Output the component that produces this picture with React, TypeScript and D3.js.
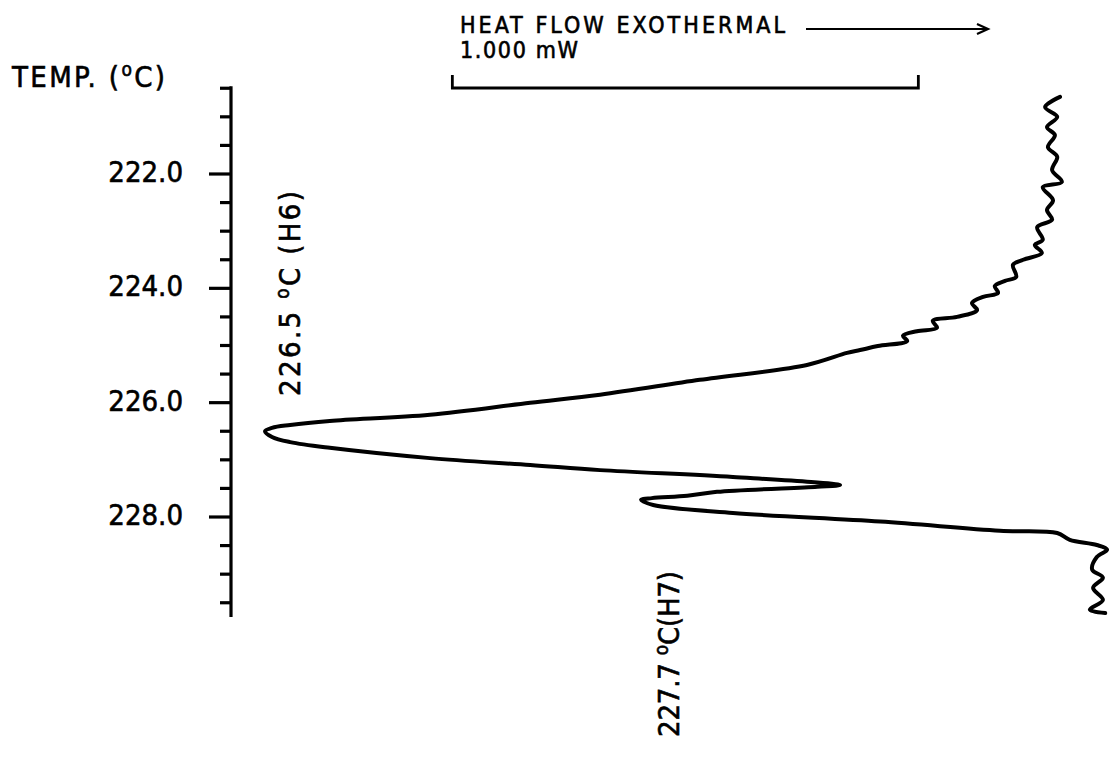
import React from 'react';
import * as d3 from 'd3';

// DSC trace: temperature (°C) down the page, heat flow (mW, exothermal to the right)
const TEMPERATURE = [
  220.65, 220.83, 221.0, 221.18, 221.32, 221.53, 221.7, 221.93, 222.14, 222.23,
  222.46, 222.63, 222.8, 222.93, 223.15, 223.24, 223.38, 223.5, 223.59, 223.8,
  223.87, 223.96, 224.08, 224.15, 224.26, 224.38, 224.5, 224.57, 224.69, 224.75,
  224.83, 224.92, 225.01, 225.08, 225.13, 225.34, 225.6, 225.86, 226.0, 226.21,
  226.32, 226.39, 226.44, 226.5, 226.6, 226.69, 226.79, 226.97, 227.09, 227.18,
  227.3, 227.44, 227.47, 227.56, 227.63, 227.67, 227.7, 227.79, 227.93, 228.08,
  228.24, 228.28, 228.4, 228.49, 228.57, 228.7, 228.92, 229.06, 229.24, 229.45,
  229.62, 229.68,
];
const HEAT_FLOW = [
  1.779, 1.747, 1.773, 1.751, 1.768, 1.753, 1.773, 1.762, 1.783, 1.742,
  1.764, 1.751, 1.762, 1.73, 1.742, 1.725, 1.74, 1.7, 1.678, 1.685,
  1.661, 1.639, 1.646, 1.614, 1.59, 1.601, 1.558, 1.506, 1.515, 1.472,
  1.442, 1.451, 1.388, 1.35, 1.322, 1.236, 1.006, 0.792, 0.642, 0.427,
  0.212, 0.127, 0.088, 0.073, 0.088, 0.127, 0.212, 0.427, 0.642, 0.792,
  1.077, 1.307, 1.258, 1.043, 0.979, 0.903, 0.88, 0.906, 1.077, 1.393,
  1.65, 1.773, 1.8, 1.858, 1.88, 1.858, 1.848, 1.871, 1.85, 1.871,
  1.843, 1.876,
];

const MAJOR_TICKS = [222, 224, 226, 228];
const TICK_LABELS = ['222.0', '224.0', '226.0', '228.0'];
const MINOR_TICKS = d3.range(220.5, 229.51, 0.5);
const AXIS_EXTENT = [220.5, 229.75];

// 1.000 mW scale bar
const SCALE_BAR_MW = [0.475, 1.475];
const SCALE_BAR_LABEL = '1.000 mW';
const HEADER = 'HEAT FLOW EXOTHERMAL';

// transition peaks
const PEAK_TEMPS = [226.5, 227.7];
const PEAK_NAMES = ['(H6)', '(H7)'];

const FONT = "'Liberation Sans Narrow', 'DejaVu Sans Condensed', 'Liberation Sans', Arial, sans-serif";
const INK = '#000';
const TEXT_STYLE = { fontFamily: FONT, fill: INK, stroke: INK, strokeWidth: 0.6 };

export default function App() {
  const W = 1109;
  const H = 758;
  const y = d3.scaleLinear().domain([222, 228]).range([174, 517]);
  const x = d3.scaleLinear().domain([0, 1]).range([231, 697]);
  const axisX = x(0);

  const pts: [number, number][] = TEMPERATURE.map((t, i) => [HEAT_FLOW[i], t]);
  const line = d3
    .line<[number, number]>()
    .x((d) => x(d[0]))
    .y((d) => y(d[1]))
    .curve(d3.curveCatmullRom.alpha(0.5));

  const barY = 88;
  const headerY = 33;
  const arrowY = 29;

  return (
    <svg
      width={W}
      height={H}
      viewBox={`0 0 ${W} ${H}`}
      style={{ position: 'absolute', left: 0, top: 0, background: '#fff' }}
    >
      <rect width={W} height={H} fill="#fff" />

      {/* temperature axis */}
      <line x1={axisX} x2={axisX} y1={y(AXIS_EXTENT[0]) - 2} y2={y(AXIS_EXTENT[1])} stroke={INK} strokeWidth={3.2} />
      {MINOR_TICKS.map((t) => {
        const major = MAJOR_TICKS.includes(t);
        return (
          <line
            key={t}
            x1={axisX - (major ? 22 : 11)}
            x2={axisX}
            y1={y(t)}
            y2={y(t)}
            stroke={INK}
            strokeWidth={3.2}
          />
        );
      })}
      {MAJOR_TICKS.map((t, i) => (
        <text key={t} x={183} y={y(t) + 8} textAnchor="end" fontSize={29} {...TEXT_STYLE}>
          {TICK_LABELS[i]}
        </text>
      ))}
      <text x={12} y={87} fontSize={29} textLength={153} lengthAdjust="spacing" {...TEXT_STYLE}>
        TEMP. (<tspan fontSize={19} dy={-11}>o</tspan>
        <tspan dy={11}>C)</tspan>
      </text>

      {/* heat-flow header, direction arrow and scale bar */}
      <text x={460} y={headerY} fontSize={23} textLength={325} lengthAdjust="spacing" {...TEXT_STYLE}>
        {HEADER}
      </text>
      <line x1={806} x2={988} y1={arrowY} y2={arrowY} stroke={INK} strokeWidth={2.2} />
      <path d={`M977,${arrowY - 5} L988,${arrowY} L977,${arrowY + 5}`} fill="none" stroke={INK} strokeWidth={2.2} />
      <text x={460} y={58} fontSize={23} textLength={118} lengthAdjust="spacing" {...TEXT_STYLE}>
        {SCALE_BAR_LABEL}
      </text>
      <path
        d={`M${x(SCALE_BAR_MW[0])},${barY - 13} L${x(SCALE_BAR_MW[0])},${barY} L${x(SCALE_BAR_MW[1])},${barY} L${x(SCALE_BAR_MW[1])},${barY - 13}`}
        fill="none"
        stroke={INK}
        strokeWidth={2.8}
      />

      {/* trace */}
      <path d={line(pts) ?? ''} fill="none" stroke={INK} strokeWidth={4} strokeLinejoin="round" strokeLinecap="round" />

      {/* peak temperature labels */}
      <text
        transform={`translate(300, 396) rotate(-90)`}
        fontSize={29}
        textLength={205}
        lengthAdjust="spacing"
        {...TEXT_STYLE}
      >
        {PEAK_TEMPS[0].toFixed(1)} <tspan fontSize={19} dy={-11}>o</tspan>
        <tspan dy={11}>C {PEAK_NAMES[0]}</tspan>
      </text>
      <text
        transform={`translate(679, 737) rotate(-90)`}
        fontSize={29}
        textLength={166}
        lengthAdjust="spacing"
        {...TEXT_STYLE}
      >
        {PEAK_TEMPS[1].toFixed(1)} <tspan fontSize={19} dy={-11}>o</tspan>
        <tspan dy={11}>C{PEAK_NAMES[1]}</tspan>
      </text>
    </svg>
  );
}
